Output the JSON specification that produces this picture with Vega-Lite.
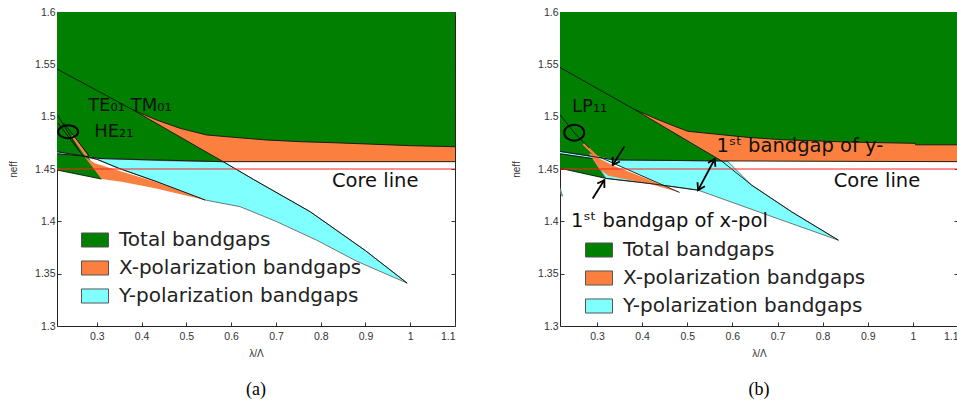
{
  "$schema": "https://vega.github.io/schema/vega-lite/v6.json",
  "background": "white",
  "padding": {"left": 8, "top": 6, "right": 0, "bottom": 0},
  "spacing": 55,
  "config": {
    "view": {"stroke": "#222", "strokeWidth": 1},
    "axis": {"grid": false, "domain": false, "tickSize": -4, "tickColor": "#333", "labelFont": "Liberation Sans", "labelFontSize": 10.5, "labelColor": "#333", "titleFont": "Liberation Sans", "titleFontSize": 10, "titleFontWeight": "normal", "titleColor": "#333"},
    "axisY": {"titlePadding": 16, "labelPadding": 6},
    "axisX": {"titlePadding": 7, "labelPadding": 9},
    "title": {"font": "Liberation Serif", "fontSize": 18, "fontWeight": "normal", "color": "#000", "orient": "bottom", "offset": 22}
  },
  "resolve": {"scale": {"color": "independent"}, "legend": {"color": "independent"}},
  "datasets": {
    "polys": [
      {"panel":"a","id":"aG","kind":"Total bandgaps","i":0,"x":0.211,"y":1.6},
      {"panel":"a","id":"aG","kind":"Total bandgaps","i":1,"x":1.1,"y":1.6},
      {"panel":"a","id":"aG","kind":"Total bandgaps","i":2,"x":1.1,"y":1.457},
      {"panel":"a","id":"aG","kind":"Total bandgaps","i":3,"x":0.582,"y":1.457},
      {"panel":"a","id":"aG","kind":"Total bandgaps","i":4,"x":0.307,"y":1.46},
      {"panel":"a","id":"aG","kind":"Total bandgaps","i":5,"x":0.28,"y":1.4625},
      {"panel":"a","id":"aG","kind":"Total bandgaps","i":6,"x":0.3105,"y":1.4404},
      {"panel":"a","id":"aG","kind":"Total bandgaps","i":7,"x":0.211,"y":1.449},

      {"panel":"a","id":"aO1","kind":"X-polarization bandgaps","i":0,"x":0.381,"y":1.5064},
      {"panel":"a","id":"aO1","kind":"X-polarization bandgaps","i":1,"x":0.4336,"y":1.4968},
      {"panel":"a","id":"aO1","kind":"X-polarization bandgaps","i":2,"x":0.4857,"y":1.4889},
      {"panel":"a","id":"aO1","kind":"X-polarization bandgaps","i":3,"x":0.5454,"y":1.4825},
      {"panel":"a","id":"aO1","kind":"X-polarization bandgaps","i":4,"x":0.605,"y":1.4803},
      {"panel":"a","id":"aO1","kind":"X-polarization bandgaps","i":5,"x":0.6796,"y":1.4777},
      {"panel":"a","id":"aO1","kind":"X-polarization bandgaps","i":6,"x":0.754,"y":1.4761},
      {"panel":"a","id":"aO1","kind":"X-polarization bandgaps","i":7,"x":0.8286,"y":1.4751},
      {"panel":"a","id":"aO1","kind":"X-polarization bandgaps","i":8,"x":0.9034,"y":1.4739},
      {"panel":"a","id":"aO1","kind":"X-polarization bandgaps","i":9,"x":1.0,"y":1.4723},
      {"panel":"a","id":"aO1","kind":"X-polarization bandgaps","i":10,"x":1.1,"y":1.4713},
      {"panel":"a","id":"aO1","kind":"X-polarization bandgaps","i":11,"x":1.1,"y":1.457},
      {"panel":"a","id":"aO1","kind":"X-polarization bandgaps","i":12,"x":0.582,"y":1.457},

      {"panel":"a","id":"aO2","kind":"X-polarization bandgaps","i":0,"x":0.272,"y":1.462},
      {"panel":"a","id":"aO2","kind":"X-polarization bandgaps","i":1,"x":0.2955,"y":1.4555},
      {"panel":"a","id":"aO2","kind":"X-polarization bandgaps","i":2,"x":0.3365,"y":1.45},
      {"panel":"a","id":"aO2","kind":"X-polarization bandgaps","i":3,"x":0.4298,"y":1.4379},
      {"panel":"a","id":"aO2","kind":"X-polarization bandgaps","i":4,"x":0.5416,"y":1.4204},
      {"panel":"a","id":"aO2","kind":"X-polarization bandgaps","i":5,"x":0.43,"y":1.4315},
      {"panel":"a","id":"aO2","kind":"X-polarization bandgaps","i":6,"x":0.355,"y":1.4379},
      {"panel":"a","id":"aO2","kind":"X-polarization bandgaps","i":7,"x":0.3105,"y":1.4404},

      {"panel":"a","id":"aC","kind":"Y-polarization bandgaps","i":0,"x":0.211,"y":1.4665},
      {"panel":"a","id":"aC","kind":"Y-polarization bandgaps","i":1,"x":0.307,"y":1.46},
      {"panel":"a","id":"aC","kind":"Y-polarization bandgaps","i":2,"x":0.45,"y":1.458},
      {"panel":"a","id":"aC","kind":"Y-polarization bandgaps","i":3,"x":0.582,"y":1.457},
      {"panel":"a","id":"aC","kind":"Y-polarization bandgaps","i":4,"x":0.65,"y":1.44},
      {"panel":"a","id":"aC","kind":"Y-polarization bandgaps","i":5,"x":0.7765,"y":1.4092},
      {"panel":"a","id":"aC","kind":"Y-polarization bandgaps","i":6,"x":0.9,"y":1.372},
      {"panel":"a","id":"aC","kind":"Y-polarization bandgaps","i":7,"x":0.993,"y":1.341},
      {"panel":"a","id":"aC","kind":"Y-polarization bandgaps","i":8,"x":0.88,"y":1.362},
      {"panel":"a","id":"aC","kind":"Y-polarization bandgaps","i":9,"x":0.791,"y":1.382},
      {"panel":"a","id":"aC","kind":"Y-polarization bandgaps","i":10,"x":0.7,"y":1.4},
      {"panel":"a","id":"aC","kind":"Y-polarization bandgaps","i":11,"x":0.62,"y":1.414},
      {"panel":"a","id":"aC","kind":"Y-polarization bandgaps","i":12,"x":0.5416,"y":1.4204},
      {"panel":"a","id":"aC","kind":"Y-polarization bandgaps","i":13,"x":0.4298,"y":1.4385},
      {"panel":"a","id":"aC","kind":"Y-polarization bandgaps","i":14,"x":0.35,"y":1.4505},
      {"panel":"a","id":"aC","kind":"Y-polarization bandgaps","i":15,"x":0.3,"y":1.4593},
      {"panel":"a","id":"aC","kind":"Y-polarization bandgaps","i":16,"x":0.269,"y":1.4624},
      {"panel":"a","id":"aC","kind":"Y-polarization bandgaps","i":17,"x":0.211,"y":1.4645},

      {"panel":"b","id":"bG","kind":"Total bandgaps","i":0,"x":0.218,"y":1.6},
      {"panel":"b","id":"bG","kind":"Total bandgaps","i":1,"x":1.1,"y":1.6},
      {"panel":"b","id":"bG","kind":"Total bandgaps","i":2,"x":1.1,"y":1.457},
      {"panel":"b","id":"bG","kind":"Total bandgaps","i":3,"x":0.576,"y":1.4577},
      {"panel":"b","id":"bG","kind":"Total bandgaps","i":4,"x":0.3385,"y":1.4587},
      {"panel":"b","id":"bG","kind":"Total bandgaps","i":5,"x":0.283,"y":1.464},
      {"panel":"b","id":"bG","kind":"Total bandgaps","i":6,"x":0.32,"y":1.441},
      {"panel":"b","id":"bG","kind":"Total bandgaps","i":7,"x":0.218,"y":1.4507},

      {"panel":"b","id":"bO1","kind":"X-polarization bandgaps","i":0,"x":0.383,"y":1.5069},
      {"panel":"b","id":"bO1","kind":"X-polarization bandgaps","i":1,"x":0.435,"y":1.4972},
      {"panel":"b","id":"bO1","kind":"X-polarization bandgaps","i":2,"x":0.472,"y":1.4908},
      {"panel":"b","id":"bO1","kind":"X-polarization bandgaps","i":3,"x":0.5017,"y":1.486},
      {"panel":"b","id":"bO1","kind":"X-polarization bandgaps","i":4,"x":0.561,"y":1.4834},
      {"panel":"b","id":"bO1","kind":"X-polarization bandgaps","i":5,"x":0.635,"y":1.4802},
      {"panel":"b","id":"bO1","kind":"X-polarization bandgaps","i":6,"x":0.709,"y":1.478},
      {"panel":"b","id":"bO1","kind":"X-polarization bandgaps","i":7,"x":0.8577,"y":1.4757},
      {"panel":"b","id":"bO1","kind":"X-polarization bandgaps","i":8,"x":1.005,"y":1.4745},
      {"panel":"b","id":"bO1","kind":"X-polarization bandgaps","i":9,"x":1.006,"y":1.4731},
      {"panel":"b","id":"bO1","kind":"X-polarization bandgaps","i":10,"x":1.1,"y":1.4731},
      {"panel":"b","id":"bO1","kind":"X-polarization bandgaps","i":11,"x":1.1,"y":1.457},
      {"panel":"b","id":"bO1","kind":"X-polarization bandgaps","i":12,"x":0.576,"y":1.4577},

      {"panel":"b","id":"bO2","kind":"X-polarization bandgaps","i":0,"x":0.283,"y":1.4655},
      {"panel":"b","id":"bO2","kind":"X-polarization bandgaps","i":1,"x":0.309,"y":1.459},
      {"panel":"b","id":"bO2","kind":"X-polarization bandgaps","i":2,"x":0.34,"y":1.4525},
      {"panel":"b","id":"bO2","kind":"X-polarization bandgaps","i":3,"x":0.4,"y":1.443},
      {"panel":"b","id":"bO2","kind":"X-polarization bandgaps","i":4,"x":0.483,"y":1.4276},
      {"panel":"b","id":"bO2","kind":"X-polarization bandgaps","i":5,"x":0.42,"y":1.4355},
      {"panel":"b","id":"bO2","kind":"X-polarization bandgaps","i":6,"x":0.36,"y":1.4405},
      {"panel":"b","id":"bO2","kind":"X-polarization bandgaps","i":7,"x":0.325,"y":1.4435},
      {"panel":"b","id":"bO2","kind":"X-polarization bandgaps","i":8,"x":0.305,"y":1.45},

      {"panel":"b","id":"bC","kind":"Y-polarization bandgaps","i":0,"x":0.218,"y":1.4668},
      {"panel":"b","id":"bC","kind":"Y-polarization bandgaps","i":1,"x":0.3385,"y":1.4587},
      {"panel":"b","id":"bC","kind":"Y-polarization bandgaps","i":2,"x":0.576,"y":1.4577},
      {"panel":"b","id":"bC","kind":"Y-polarization bandgaps","i":3,"x":0.59,"y":1.4571},
      {"panel":"b","id":"bC","kind":"Y-polarization bandgaps","i":4,"x":0.6426,"y":1.4346},
      {"panel":"b","id":"bC","kind":"Y-polarization bandgaps","i":5,"x":0.7316,"y":1.409},
      {"panel":"b","id":"bC","kind":"Y-polarization bandgaps","i":6,"x":0.835,"y":1.382},
      {"panel":"b","id":"bC","kind":"Y-polarization bandgaps","i":7,"x":0.68,"y":1.4057},
      {"panel":"b","id":"bC","kind":"Y-polarization bandgaps","i":8,"x":0.524,"y":1.4298},
      {"panel":"b","id":"bC","kind":"Y-polarization bandgaps","i":9,"x":0.42,"y":1.436},
      {"panel":"b","id":"bC","kind":"Y-polarization bandgaps","i":10,"x":0.32,"y":1.441},
      {"panel":"b","id":"bC","kind":"Y-polarization bandgaps","i":11,"x":0.29,"y":1.46},
      {"panel":"b","id":"bC","kind":"Y-polarization bandgaps","i":12,"x":0.218,"y":1.4645},

      {"panel":"b","id":"bC2","kind":"Y-polarization bandgaps","i":0,"x":0.218,"y":1.432},
      {"panel":"b","id":"bC2","kind":"Y-polarization bandgaps","i":1,"x":0.2215,"y":1.427},
      {"panel":"b","id":"bC2","kind":"Y-polarization bandgaps","i":2,"x":0.2235,"y":1.424},
      {"panel":"b","id":"bC2","kind":"Y-polarization bandgaps","i":3,"x":0.2195,"y":1.4262},
      {"panel":"b","id":"bC2","kind":"Y-polarization bandgaps","i":4,"x":0.218,"y":1.429}
    ],
    "gaps": [
      {"panel":"b","id":"bW","i":0,"x":0.305,"y":1.4615},
      {"panel":"b","id":"bW","i":1,"x":0.34,"y":1.4548},
      {"panel":"b","id":"bW","i":2,"x":0.483,"y":1.4276},
      {"panel":"b","id":"bW","i":3,"x":0.34,"y":1.453},
      {"panel":"b","id":"bW","i":4,"x":0.309,"y":1.4595}
    ],
    "edges": [
      {"panel":"a","id":"aDiag","i":0,"x":0.211,"y":1.5455},
      {"panel":"a","id":"aDiag","i":1,"x":0.381,"y":1.5064},
      {"panel":"a","id":"aDiag","i":2,"x":0.582,"y":1.457},
      {"panel":"a","id":"aDiag","i":3,"x":0.65,"y":1.44},
      {"panel":"a","id":"aDiag","i":4,"x":0.7765,"y":1.4092},
      {"panel":"a","id":"aDiag","i":5,"x":0.9,"y":1.372},
      {"panel":"a","id":"aDiag","i":6,"x":0.993,"y":1.341},
      {"panel":"a","id":"aBand","i":0,"x":0.381,"y":1.5064},
      {"panel":"a","id":"aBand","i":1,"x":0.4336,"y":1.4968},
      {"panel":"a","id":"aBand","i":2,"x":0.4857,"y":1.4889},
      {"panel":"a","id":"aBand","i":3,"x":0.5454,"y":1.4825},
      {"panel":"a","id":"aBand","i":4,"x":0.605,"y":1.4803},
      {"panel":"a","id":"aBand","i":5,"x":0.6796,"y":1.4777},
      {"panel":"a","id":"aBand","i":6,"x":0.754,"y":1.4761},
      {"panel":"a","id":"aBand","i":7,"x":0.8286,"y":1.4751},
      {"panel":"a","id":"aBand","i":8,"x":0.9034,"y":1.4739},
      {"panel":"a","id":"aBand","i":9,"x":1.0,"y":1.4723},
      {"panel":"a","id":"aBand","i":10,"x":1.1,"y":1.4713},
      {"panel":"a","id":"aFlat","i":0,"x":0.211,"y":1.4665},
      {"panel":"a","id":"aFlat","i":1,"x":0.307,"y":1.46},
      {"panel":"a","id":"aFlat","i":2,"x":0.582,"y":1.457},
      {"panel":"a","id":"aFlat","i":3,"x":1.1,"y":1.457},
      {"panel":"a","id":"aStrip","i":0,"x":0.211,"y":1.4645},
      {"panel":"a","id":"aStrip","i":1,"x":0.269,"y":1.4624},
      {"panel":"a","id":"aStrip","i":2,"x":0.3,"y":1.4593},
      {"panel":"a","id":"aStrip","i":3,"x":0.35,"y":1.4505},
      {"panel":"a","id":"aStrip","i":4,"x":0.4298,"y":1.4385},
      {"panel":"a","id":"aStrip","i":5,"x":0.5416,"y":1.4204},
      {"panel":"a","id":"aGB","i":0,"x":0.211,"y":1.449},
      {"panel":"a","id":"aGB","i":1,"x":0.3105,"y":1.4404},
      {"panel":"a","id":"aM1","i":0,"x":0.213,"y":1.501},
      {"panel":"a","id":"aM1","i":1,"x":0.262,"y":1.4665},
      {"panel":"a","id":"aM2","i":0,"x":0.213,"y":1.494},
      {"panel":"a","id":"aM2","i":1,"x":0.27,"y":1.462},
      {"panel":"a","id":"aM3","i":0,"x":0.226,"y":1.494},
      {"panel":"a","id":"aM3","i":1,"x":0.283,"y":1.4625},

      {"panel":"b","id":"bDiag","i":0,"x":0.218,"y":1.547},
      {"panel":"b","id":"bDiag","i":1,"x":0.383,"y":1.5069},
      {"panel":"b","id":"bDiag","i":2,"x":0.576,"y":1.4577},
      {"panel":"b","id":"bDiag","i":3,"x":0.6426,"y":1.4346},
      {"panel":"b","id":"bDiag","i":4,"x":0.7316,"y":1.409},
      {"panel":"b","id":"bDiag","i":5,"x":0.835,"y":1.382},
      {"panel":"b","id":"bBand","i":0,"x":0.383,"y":1.5069},
      {"panel":"b","id":"bBand","i":1,"x":0.435,"y":1.4972},
      {"panel":"b","id":"bBand","i":2,"x":0.472,"y":1.4908},
      {"panel":"b","id":"bBand","i":3,"x":0.5017,"y":1.486},
      {"panel":"b","id":"bBand","i":4,"x":0.561,"y":1.4834},
      {"panel":"b","id":"bBand","i":5,"x":0.635,"y":1.4802},
      {"panel":"b","id":"bBand","i":6,"x":0.709,"y":1.478},
      {"panel":"b","id":"bBand","i":7,"x":0.8577,"y":1.4757},
      {"panel":"b","id":"bBand","i":8,"x":1.005,"y":1.4745},
      {"panel":"b","id":"bBand","i":9,"x":1.006,"y":1.4731},
      {"panel":"b","id":"bBand","i":10,"x":1.1,"y":1.4731},
      {"panel":"b","id":"bFlat","i":0,"x":0.218,"y":1.4668},
      {"panel":"b","id":"bFlat","i":1,"x":0.3385,"y":1.4587},
      {"panel":"b","id":"bFlat","i":2,"x":0.576,"y":1.4577},
      {"panel":"b","id":"bFlat","i":3,"x":1.1,"y":1.457},
      {"panel":"b","id":"bStrip","i":0,"x":0.218,"y":1.4645},
      {"panel":"b","id":"bStrip","i":1,"x":0.29,"y":1.46},
      {"panel":"b","id":"bGB","i":0,"x":0.218,"y":1.4507},
      {"panel":"b","id":"bGB","i":1,"x":0.32,"y":1.441},
      {"panel":"b","id":"bGB","i":2,"x":0.42,"y":1.436},
      {"panel":"b","id":"bGB","i":3,"x":0.524,"y":1.4298},
      {"panel":"b","id":"bLP","i":0,"x":0.218,"y":1.502},
      {"panel":"b","id":"bLP","i":1,"x":0.2495,"y":1.4847},
      {"panel":"b","id":"bLP","i":2,"x":0.283,"y":1.47},
      {"panel":"b","id":"bSl","i":0,"x":0.305,"y":1.4615},
      {"panel":"b","id":"bSl","i":1,"x":0.34,"y":1.4548},
      {"panel":"b","id":"bSl","i":2,"x":0.483,"y":1.4276}
    ],
    "slivers": [
      {"panel":"a","id":"aS","i":0,"x":0.245,"y":1.482},
      {"panel":"a","id":"aS","i":1,"x":0.277,"y":1.4625},
      {"panel":"b","id":"bS","i":0,"x":0.27,"y":1.474},
      {"panel":"b","id":"bS","i":1,"x":0.3,"y":1.4615}
    ],
    "core": [
      {"panel":"a","x":0.211,"x2":1.1,"y":1.45},
      {"panel":"b","x":0.218,"x2":1.1,"y":1.45}
    ],
    "circles": [
      {"panel":"a","x":0.2358,"y":1.4857},
      {"panel":"b","x":0.2495,"y":1.4847}
    ],
    "labels": [
      {"panel":"a","text":"TE₀₁ TM₀₁","x":0.2805,"y":1.5054,"size":"s"},
      {"panel":"a","text":"HE₂₁","x":0.294,"y":1.4809,"size":"s"},
      {"panel":"a","text":"Core line","x":0.825,"y":1.4325,"size":"l"},
      {"panel":"b","text":"LP₁₁","x":0.2446,"y":1.5046,"size":"s"},
      {"panel":"b","text":"1ˢᵗ bandgap of y-","x":0.5647,"y":1.4658,"size":"l"},
      {"panel":"b","text":"Core line","x":0.8244,"y":1.433,"size":"l"},
      {"panel":"b","text":"1ˢᵗ bandgap of x-pol","x":0.2422,"y":1.3945,"size":"l"}
    ],
    "arrows": [
      {"id":"A1","x":0.3607,"y":1.4716,"x2":0.3349,"y2":1.4539},
      {"id":"A2","x":0.2904,"y":1.4218,"x2":0.3163,"y2":1.4394},
      {"id":"A3","x":0.561,"y":1.4596,"x2":0.524,"y2":1.4298}
    ],
    "heads": [
      {"id":"H1","x":0.3349,"y":1.4539},
      {"id":"H2","x":0.3163,"y":1.4394},
      {"id":"H3","x":0.561,"y":1.4596},
      {"id":"H4","x":0.524,"y":1.4298}
    ]
  },
  "hconcat": [
    {
      "width": 398,
      "height": 314,
      "title": {"text": "(a)"},
      "resolve": {"axis": {"x": "independent", "y": "independent"}},
      "layer": [
        {
          "encoding": {
            "x": {"field": "x", "type": "quantitative", "scale": {"domain": [0.211, 1.1], "nice": false, "zero": false}, "axis": {"values": [0.3,0.4,0.5,0.6,0.7,0.8,0.9,1,1.1], "format": ".1~f", "title": "λ/Λ"}},
            "y": {"field": "y", "type": "quantitative", "scale": {"domain": [1.3, 1.6], "nice": false, "zero": false}, "axis": {"values": [1.3,1.35,1.4,1.45,1.5,1.55,1.6], "format": ".2~f", "title": "neff"}}
          },
          "layer": [
            {
              "data": {"name": "polys"},
              "transform": [{"filter": "datum.panel === 'a' && datum.kind === 'Total bandgaps'"}],
              "mark": {"type": "line", "filled": true, "strokeWidth": 0, "clip": true},
              "encoding": {
                "color": {"field": "kind", "type": "nominal", "scale": {"domain": ["Total bandgaps","X-polarization bandgaps","Y-polarization bandgaps"], "range": ["#007f00","#fb8040","#80ffff"]},
                  "legend": {"orient": "bottom-left", "offset": 20, "symbolOffset": 4, "title": null, "symbolType": "M-1,-0.52H1V0.52H-1Z", "symbolSize": 729, "symbolStrokeColor": "#444", "symbolStrokeWidth": 1, "labelFont": "DejaVu Sans", "labelFontSize": 20, "labelColor": "#222", "labelOffset": 10, "rowPadding": 4, "padding": 0, "labelLimit": 400}},
                "detail": {"field": "id"},
                "order": {"field": "i", "type": "quantitative"}
              }
            },
            {
              "data": {"name": "polys"},
              "transform": [{"filter": "datum.panel === 'a' && datum.kind === 'Y-polarization bandgaps'"}],
              "mark": {"type": "line", "filled": true, "stroke": "#555", "strokeWidth": 0.8, "clip": true},
              "encoding": {
                "color": {"field": "kind", "type": "nominal"},
                "detail": {"field": "id"},
                "order": {"field": "i", "type": "quantitative"}
              }
            },
            {
              "data": {"name": "polys"},
              "transform": [{"filter": "datum.panel === 'a' && datum.kind === 'X-polarization bandgaps'"}],
              "mark": {"type": "line", "filled": true, "strokeWidth": 0, "clip": true},
              "encoding": {
                "color": {"field": "kind", "type": "nominal"},
                "detail": {"field": "id"},
                "order": {"field": "i", "type": "quantitative"}
              }
            },
            {
              "data": {"name": "slivers"},
              "transform": [{"filter": "datum.panel === 'a'"}],
              "mark": {"type": "line", "color": "#fb8040", "strokeWidth": 2.5},
              "encoding": {"detail": {"field": "id"}, "order": {"field": "i", "type": "quantitative"}}
            },
            {
              "data": {"name": "edges"},
              "transform": [{"filter": "datum.panel === 'a'"}],
              "mark": {"type": "line", "color": "#111", "strokeWidth": 0.9, "clip": true},
              "encoding": {"detail": {"field": "id"}, "order": {"field": "i", "type": "quantitative"}}
            },
            {
              "data": {"name": "core"},
              "transform": [{"filter": "datum.panel === 'a'"}],
              "mark": {"type": "rule", "color": "#ff2020", "strokeWidth": 1},
              "encoding": {"x2": {"field": "x2"}}
            },
            {
              "data": {"name": "circles"},
              "transform": [{"filter": "datum.panel === 'a'"}],
              "mark": {"type": "point", "shape": "M-1,0A1,0.65,0,1,1,1,0A1,0.65,0,1,1,-1,0Z", "size": 400, "filled": false, "stroke": "#000", "strokeWidth": 2, "opacity": 1}
            },
            {
              "data": {"name": "labels"},
              "transform": [{"filter": "datum.panel === 'a' && datum.size === 's'"}],
              "mark": {"type": "text", "font": "DejaVu Sans", "fontSize": 18, "align": "left", "baseline": "alphabetic", "color": "#111"},
              "encoding": {"text": {"field": "text"}}
            },
            {
              "data": {"name": "labels"},
              "transform": [{"filter": "datum.panel === 'a' && datum.size === 'l'"}],
              "mark": {"type": "text", "font": "DejaVu Sans", "fontSize": 19.5, "align": "left", "baseline": "alphabetic", "color": "#111"},
              "encoding": {"text": {"field": "text"}}
            }
          ]
        },
        {
          "data": {"name": "core"},
          "transform": [{"filter": "datum.panel === 'a'"}],
          "mark": {"type": "point", "opacity": 0},
          "encoding": {
            "x": {"field": "x", "type": "quantitative", "axis": {"orient": "top", "values": [0.3,0.4,0.5,0.6,0.7,0.8,0.9,1,1.1], "labels": false, "title": null}},
            "y": {"field": "y", "type": "quantitative", "axis": {"orient": "right", "values": [1.3,1.35,1.4,1.45,1.5,1.55,1.6], "labels": false, "title": null}}
          }
        }
      ]
    },
    {
      "width": 398,
      "height": 314,
      "title": {"text": "(b)"},
      "resolve": {"axis": {"x": "independent", "y": "independent"}},
      "layer": [
        {
          "encoding": {
            "x": {"field": "x", "type": "quantitative", "scale": {"domain": [0.218, 1.1], "nice": false, "zero": false}, "axis": {"values": [0.3,0.4,0.5,0.6,0.7,0.8,0.9,1,1.1], "format": ".1~f", "title": "λ/Λ"}},
            "y": {"field": "y", "type": "quantitative", "scale": {"domain": [1.3, 1.6], "nice": false, "zero": false}, "axis": {"values": [1.3,1.35,1.4,1.45,1.5,1.55,1.6], "format": ".2~f", "title": "neff"}}
          },
          "layer": [
            {
              "data": {"name": "polys"},
              "transform": [{"filter": "datum.panel === 'b' && datum.kind === 'Total bandgaps'"}],
              "mark": {"type": "line", "filled": true, "strokeWidth": 0, "clip": true},
              "encoding": {
                "color": {"field": "kind", "type": "nominal", "scale": {"domain": ["Total bandgaps","X-polarization bandgaps","Y-polarization bandgaps"], "range": ["#007f00","#fb8040","#80ffff"]},
                  "legend": {"orient": "bottom-left", "offset": 10, "symbolOffset": 15, "title": null, "symbolType": "M-1,-0.52H1V0.52H-1Z", "symbolSize": 729, "symbolStrokeColor": "#444", "symbolStrokeWidth": 1, "labelFont": "DejaVu Sans", "labelFontSize": 20, "labelColor": "#222", "labelOffset": 10, "rowPadding": 4, "padding": 0, "labelLimit": 400}},
                "detail": {"field": "id"},
                "order": {"field": "i", "type": "quantitative"}
              }
            },
            {
              "data": {"name": "polys"},
              "transform": [{"filter": "datum.panel === 'b' && datum.kind === 'Y-polarization bandgaps'"}],
              "mark": {"type": "line", "filled": true, "stroke": "#555", "strokeWidth": 0.8, "clip": true},
              "encoding": {
                "color": {"field": "kind", "type": "nominal"},
                "detail": {"field": "id"},
                "order": {"field": "i", "type": "quantitative"}
              }
            },
            {
              "data": {"name": "polys"},
              "transform": [{"filter": "datum.panel === 'b' && datum.kind === 'X-polarization bandgaps'"}],
              "mark": {"type": "line", "filled": true, "strokeWidth": 0, "clip": true},
              "encoding": {
                "color": {"field": "kind", "type": "nominal"},
                "detail": {"field": "id"},
                "order": {"field": "i", "type": "quantitative"}
              }
            },
            {
              "data": {"name": "gaps"},
              "mark": {"type": "line", "filled": true, "fill": "white", "strokeWidth": 0, "clip": true},
              "encoding": {"detail": {"field": "id"}, "order": {"field": "i", "type": "quantitative"}}
            },
            {
              "data": {"name": "slivers"},
              "transform": [{"filter": "datum.panel === 'b'"}],
              "mark": {"type": "line", "color": "#fb8040", "strokeWidth": 2.5},
              "encoding": {"detail": {"field": "id"}, "order": {"field": "i", "type": "quantitative"}}
            },
            {
              "data": {"name": "edges"},
              "transform": [{"filter": "datum.panel === 'b'"}],
              "mark": {"type": "line", "color": "#111", "strokeWidth": 0.9, "clip": true},
              "encoding": {"detail": {"field": "id"}, "order": {"field": "i", "type": "quantitative"}}
            },
            {
              "data": {"name": "core"},
              "transform": [{"filter": "datum.panel === 'b'"}],
              "mark": {"type": "rule", "color": "#ff2020", "strokeWidth": 1},
              "encoding": {"x2": {"field": "x2"}}
            },
            {
              "data": {"name": "arrows"},
              "mark": {"type": "rule", "color": "#000", "strokeWidth": 1.8},
              "encoding": {"x2": {"field": "x2"}, "y2": {"field": "y2"}}
            },
            {
              "data": {"name": "heads"},
              "transform": [{"filter": "datum.id === 'H1'"}],
              "mark": {"type": "point", "shape": "M-0.6,0.95L0,0L0.6,0.95", "size": 196, "filled": false, "stroke": "#000", "strokeWidth": 1.8, "opacity": 1, "angle": 212}
            },
            {
              "data": {"name": "heads"},
              "transform": [{"filter": "datum.id === 'H2'"}],
              "mark": {"type": "point", "shape": "M-0.6,0.95L0,0L0.6,0.95", "size": 196, "filled": false, "stroke": "#000", "strokeWidth": 1.8, "opacity": 1, "angle": 32}
            },
            {
              "data": {"name": "heads"},
              "transform": [{"filter": "datum.id === 'H3'"}],
              "mark": {"type": "point", "shape": "M-0.6,0.95L0,0L0.6,0.95", "size": 196, "filled": false, "stroke": "#000", "strokeWidth": 1.8, "opacity": 1, "angle": 28}
            },
            {
              "data": {"name": "heads"},
              "transform": [{"filter": "datum.id === 'H4'"}],
              "mark": {"type": "point", "shape": "M-0.6,0.95L0,0L0.6,0.95", "size": 196, "filled": false, "stroke": "#000", "strokeWidth": 1.8, "opacity": 1, "angle": 208}
            },
            {
              "data": {"name": "circles"},
              "transform": [{"filter": "datum.panel === 'b'"}],
              "mark": {"type": "point", "shape": "M-1,0A1,0.8,0,1,1,1,0A1,0.8,0,1,1,-1,0Z", "size": 400, "filled": false, "stroke": "#000", "strokeWidth": 2, "opacity": 1}
            },
            {
              "data": {"name": "labels"},
              "transform": [{"filter": "datum.panel === 'b' && datum.size === 's'"}],
              "mark": {"type": "text", "font": "DejaVu Sans", "fontSize": 18, "align": "left", "baseline": "alphabetic", "color": "#111"},
              "encoding": {"text": {"field": "text"}}
            },
            {
              "data": {"name": "labels"},
              "transform": [{"filter": "datum.panel === 'b' && datum.size === 'l'"}],
              "mark": {"type": "text", "font": "DejaVu Sans", "fontSize": 19.5, "align": "left", "baseline": "alphabetic", "color": "#111"},
              "encoding": {"text": {"field": "text"}}
            }
          ]
        },
        {
          "data": {"name": "core"},
          "transform": [{"filter": "datum.panel === 'b'"}],
          "mark": {"type": "point", "opacity": 0},
          "encoding": {
            "x": {"field": "x", "type": "quantitative", "axis": {"orient": "top", "values": [0.3,0.4,0.5,0.6,0.7,0.8,0.9,1,1.1], "labels": false, "title": null}},
            "y": {"field": "y", "type": "quantitative", "axis": {"orient": "right", "values": [1.3,1.35,1.4,1.45,1.5,1.55,1.6], "labels": false, "title": null}}
          }
        }
      ]
    }
  ]
}
